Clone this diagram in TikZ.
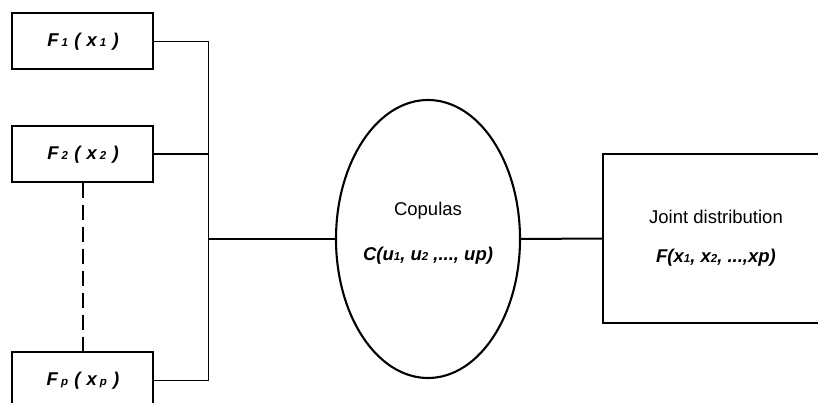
\documentclass[tikz,border=0pt]{standalone}
\usepackage{fontspec}
\setmainfont{Liberation Sans}
\usetikzlibrary{shapes.geometric}
\newcommand{\sm}[1]{{\fontsize{11.5}{11.5}\selectfont #1}}
\begin{document}
\begin{tikzpicture}[x=1pt,y=-1pt,
  box/.style={draw,line width=2.1pt,minimum width=141pt,minimum height=56pt,inner sep=0pt},
  lbl/.style={font=\fontsize{18.5}{21}\selectfont\bfseries\itshape,inner sep=0pt},
  txt/.style={font=\fontsize{18.5}{21}\selectfont,inner sep=0pt},
  thinline/.style={line width=0.8pt},
  thickline/.style={line width=2pt}]
\useasboundingbox (0,0) rectangle (818,403);
\clip (0,0) rectangle (818,403);
\fill[white] (0,0) rectangle (818,403);
% marginal distributions
\node[box] (f1) at (82.5,41) {};
\node[box] (f2) at (82.5,154) {};
\node[box] (fp) at (82.5,380) {};
\node[lbl] (t1) at (83,42) {F\,\sm{1}\,\,(\,\,x\,\sm{1}\,\,)};
\node[lbl] (t2) at (83,155) {F\,\sm{2}\,\,(\,\,x\,\sm{2}\,\,)};
\node[lbl] (tp) at (83,381) {F\,\sm{p}\,\,(\,\,x\,\sm{p}\,\,)};
\draw[thickline,dash pattern=on 15pt off 7pt] (f2.south) -- (fp.north);
% copula and joint distribution
\node[draw,ellipse,line width=2.1pt,minimum width=184pt,minimum height=278pt,inner sep=0pt] (cop) at (428,239) {};
\node[txt] (copt) at (428,211) {Copulas};
\node[lbl] (cf) at (428,256) {C(u\sm{1}, u\sm{2} ,..., up)};
\node[box,minimum width=226pt,minimum height=169pt] (joint) at (716,238.5) {};
\node[txt] (jt) at (716,217) {Joint distribution};
\node[lbl] (jf) at (716,258) {F(x\sm{1}, x\sm{2}, ...,xp)};
% connectors
\coordinate (hub) at (208,239);
\draw[thinline] (f1.east) -- (f1.east -| hub) |- (fp.east);
\draw[thickline] (f2.east) -- (f2.east -| hub);
\draw[thickline] (hub) -- (cop.west);
\draw[thickline] (cop.east) -- (joint.west);
\end{tikzpicture}
\end{document}
